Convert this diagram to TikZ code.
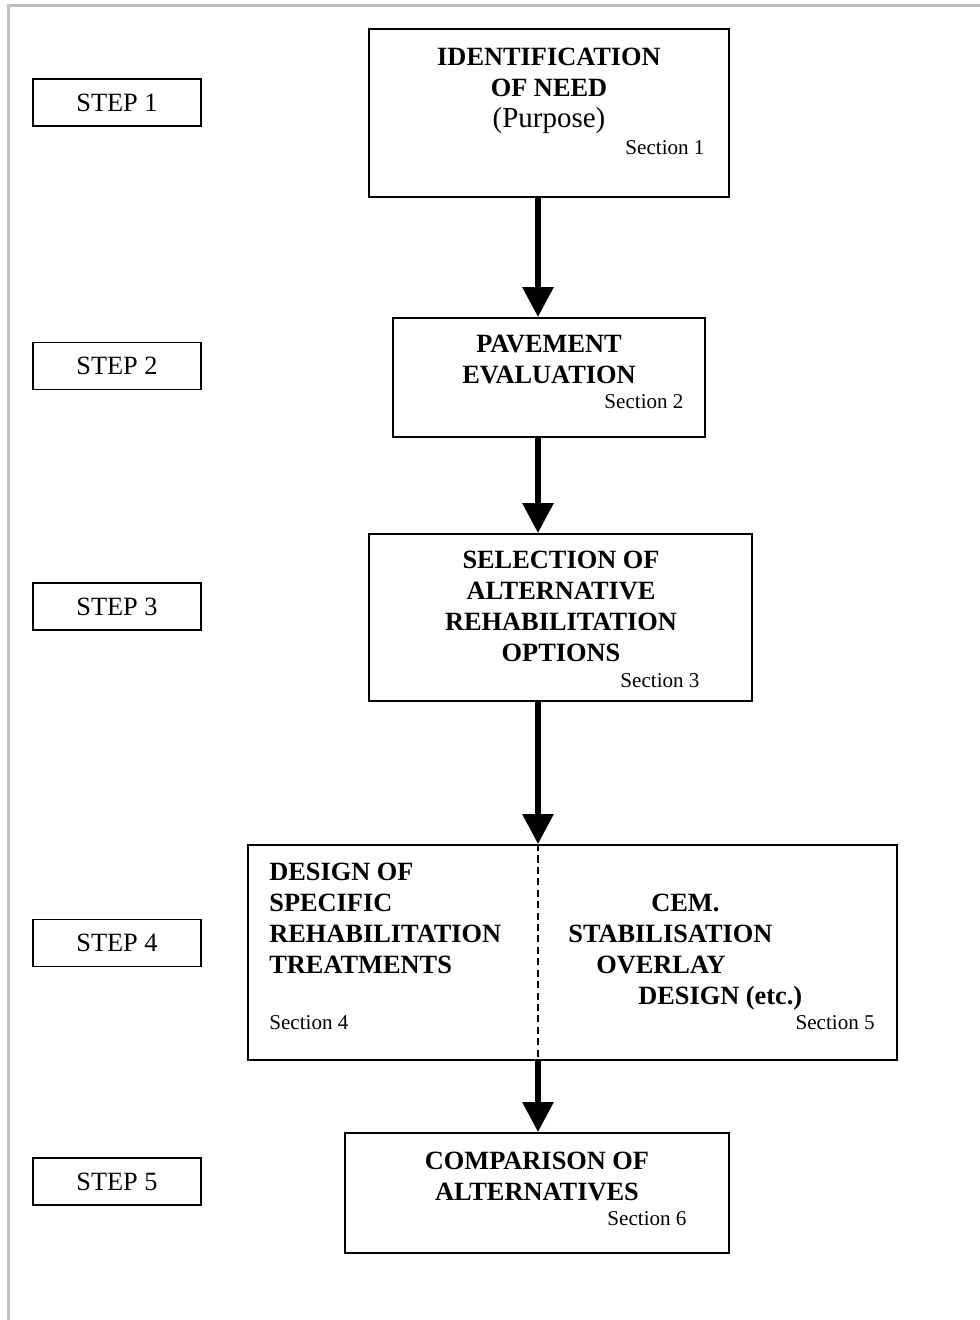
\documentclass[tikz,border=0pt]{standalone}
\usepackage{fontspec}
\setmainfont{Liberation Serif}
\usetikzlibrary{arrows.meta,positioning}
\definecolor{FrameClr}{RGB}{192,192,192}

\tikzset{
  stepbox/.style={draw,line width=1.1pt,minimum width=3.36cm,minimum height=0.94cm,
    inner sep=0pt,font=\fontsize{15}{17.6}\selectfont},
  mainbox/.style={draw,line width=1.1pt,inner sep=0pt},
  title/.style={inner sep=0pt,align=center,font=\fontsize{15}{17.6}\selectfont\bfseries},
  sect/.style={inner sep=0pt,font=\fontsize{12}{14}\selectfont},
  flow/.style={line width=3.4pt,-{Triangle[width=0.6cm,length=0.6cm]}},
}

\begin{document}
\begin{tikzpicture}[x=0.02cm,y=-0.02cm]
\useasboundingbox (0,0) rectangle (980,1320);

% gray frame on top and left
\draw[FrameClr,line width=1.2pt] (8.5,1320) -- (8.5,5.5) -- (980,5.5);

\coordinate (spine) at (538,0);

% step labels
\node[stepbox] (s1) at (117,102.5) {STEP 1};
\node[stepbox] (s2) at (117,366) {STEP 2};
\node[stepbox] (s3) at (117,606.5) {STEP 3};
\node[stepbox] (s4) at (117,943) {STEP 4};
\node[stepbox] (s5) at (117,1181.5) {STEP 5};

% main boxes
\node[mainbox,minimum width=7.2cm,minimum height=3.36cm] (need) at (549,113) {};
\node[mainbox,minimum width=6.24cm,minimum height=2.38cm] (eval) at (549,377.5) {};
\node[mainbox,minimum width=7.66cm,minimum height=3.34cm] (select) at (560.5,617.5) {};
\node[mainbox,minimum width=12.98cm,minimum height=4.3cm] (design) at (572.5,952.5) {};
\node[mainbox,minimum width=7.68cm,minimum height=2.4cm] (compare) at (537,1193) {};

% box texts
\node[title,anchor=north] (needtxt) at (549,48)
  {IDENTIFICATION\\OF NEED\\{\mdseries\fontsize{16.5}{17.6}\selectfont (Purpose)}};
\node[sect] (sec1) at (665,148) {Section 1};

\node[title,anchor=north] (evaltxt) at (549,335) {PAVEMENT\\EVALUATION};
\node[sect] (sec2) at (644,402) {Section 2};

\node[title,anchor=north] (selecttxt) at (561,551)
  {SELECTION OF\\ALTERNATIVE\\REHABILITATION\\OPTIONS};
\node[sect] (sec3) at (660,681) {Section 3};

\node[title,align=left,anchor=north west] (designtxt) at (269,863)
  {DESIGN OF\\SPECIFIC\\REHABILITATION\\TREATMENTS};
\node[sect,anchor=west] (sec4) at (269,1023) {Section 4};
\node[title,align=left,anchor=north west] (cemtxt) at (568,894)
  {\hspace*{1.66cm}CEM.\\STABILISATION\\\hspace*{0.56cm}OVERLAY\\\hspace*{1.4cm}DESIGN (etc.)};
\node[sect,anchor=east] (sec5) at (875,1023) {Section 5};

\node[title,anchor=north] (comparetxt) at (537,1152) {COMPARISON OF\\ALTERNATIVES};
\node[sect] (sec6) at (647,1219) {Section 6};

% split of step 4
\draw[dashed,line width=0.6pt,dash pattern=on 4pt off 2.5pt] (design.north -| spine) -- (design.south -| spine);

% arrows
\draw[flow] (need.south -| spine) -- (eval.north -| spine);
\draw[flow] (eval.south -| spine) -- (select.north -| spine);
\draw[flow] (select.south -| spine) -- (design.north -| spine);
\draw[flow] (design.south -| spine) -- (compare.north -| spine);

\end{tikzpicture}
\end{document}
